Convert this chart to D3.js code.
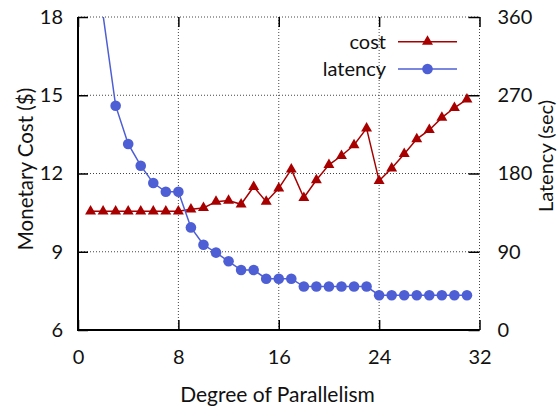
<!DOCTYPE html>
<html>
<head>
<meta charset="utf-8">
<script src="https://cdn.jsdelivr.net/npm/d3@7"></script>
<style>
  body { margin: 0; background: #fff; }
  text { font-family: Lato, "Open Sans", sans-serif; fill: #111; }
</style>
</head>
<body>
<svg id="chart" width="557" height="412"></svg>
<script>
// Degree of parallelism on the x axis
const degrees = [1, 2, 3, 4, 5, 6, 7, 8, 9, 10, 11, 12, 13, 14, 15, 16,
                 17, 18, 19, 20, 21, 22, 23, 24, 25, 26, 27, 28, 29, 30, 31];

// Monetary cost in dollars (left axis)
const costValues = [10.55, 10.55, 10.55, 10.55, 10.55, 10.55, 10.55, 10.55,
                    10.63, 10.68, 10.92, 10.96, 10.82, 11.49, 10.92, 11.43,
                    12.16, 11.07, 11.75, 12.33, 12.68, 13.09, 13.73, 11.72,
                    12.20, 12.75, 13.32, 13.67, 14.14, 14.52, 14.84];

// Latency in seconds (right axis)
const latencyValues = [720, 362, 258, 214, 189, 169, 159, 159, 118, 98, 89,
                       79, 69, 69, 59, 59, 59, 50, 50, 50, 50, 50, 50,
                       40, 40, 40, 40, 40, 40, 40, 40];

const xTicks = [0, 8, 16, 24, 32];
const costTicks = [6, 9, 12, 15, 18];
const latencyTicks = [0, 90, 180, 270, 360];

const costColor = "#a80000";
const latencyColor = "#4e5fd6";

const svg = d3.select("#chart");
const W = 557, H = 412;
const margin = { left: 78, right: W - 479.5, top: 17, bottom: H - 330 };
const x0 = margin.left, x1 = W - margin.right, y0 = margin.top, y1 = H - margin.bottom;

const x = d3.scaleLinear().domain([0, 32]).range([x0, x1]);
const yCost = d3.scaleLinear().domain([6, 18]).range([y1, y0]);
const yLat = d3.scaleLinear().domain([0, 360]).range([y1, y0]);

svg.append("defs").append("clipPath").attr("id", "plot-clip")
  .append("rect").attr("x", x0).attr("y", y0).attr("width", x1 - x0).attr("height", y1 - y0);

// dotted grid (the x=32 and y=18 lines double as the right/top border)
const grid = svg.append("g").attr("stroke", "#444").attr("stroke-width", 1)
  .attr("stroke-dasharray", "1,2").attr("fill", "none");
grid.selectAll("line.v").data(xTicks.slice(1)).join("line")
  .attr("x1", d => x(d)).attr("x2", d => x(d)).attr("y1", y0).attr("y2", y1);
grid.selectAll("line.h").data(costTicks.slice(1)).join("line")
  .attr("x1", x0).attr("x2", x1).attr("y1", d => yCost(d)).attr("y2", d => yCost(d));

// axes with inward ticks
const fontSize = 20;
const styleAxis = g => {
  g.select(".domain").remove();
  g.selectAll(".tick line").attr("stroke", "#000").attr("stroke-width", 1.5);
  g.selectAll(".tick text").attr("font-size", fontSize).attr("fill", "#111")
    .attr("font-family", "Lato, 'Open Sans', sans-serif");
};

svg.append("g").attr("transform", `translate(${x0},0)`)
  .call(d3.axisLeft(yCost).tickValues(costTicks).tickFormat(d3.format("d")).tickSize(-10).tickPadding(15))
  .call(styleAxis);

svg.append("g").attr("transform", `translate(${x1},0)`)
  .call(d3.axisRight(yLat).tickValues(latencyTicks).tickFormat(d3.format("d")).tickSize(-11).tickPadding(18))
  .call(styleAxis);

svg.append("g").attr("transform", `translate(0,${y1})`)
  .call(d3.axisBottom(x).tickValues(xTicks).tickFormat(d3.format("d")).tickSize(-10).tickPadding(20))
  .call(styleAxis);

svg.append("g").attr("transform", `translate(0,${y0})`)
  .call(d3.axisTop(x).tickValues(xTicks).tickFormat("").tickSize(-10))
  .call(styleAxis);

// solid left and bottom frame
svg.append("path")
  .attr("d", `M${x0},${y0}V${y1}H${x1}`)
  .attr("fill", "none").attr("stroke", "#000").attr("stroke-width", 2);

// axis titles
svg.append("text").attr("transform", `translate(25,169) rotate(-90)`)
  .attr("text-anchor", "middle").attr("dominant-baseline", "central")
  .attr("font-size", 20.5).text("Monetary Cost ($)");
svg.append("text").attr("transform", `translate(545,156) rotate(-90)`)
  .attr("text-anchor", "middle").attr("dominant-baseline", "central")
  .attr("font-size", 20).text("Latency (sec)");
svg.append("text").attr("x", 277.5).attr("y", 402)
  .attr("text-anchor", "middle").attr("font-size", 21).text("Degree of Parallelism");

// series
const costData = degrees.map((d, i) => ({ x: d, y: costValues[i] }));
const latData = degrees.map((d, i) => ({ x: d, y: latencyValues[i] }));

const tri = d3.symbol().type(d3.symbolTriangle).size(52);

const plot = svg.append("g").attr("clip-path", "url(#plot-clip)");

plot.append("path").datum(costData)
  .attr("fill", "none").attr("stroke", costColor).attr("stroke-width", 1.5)
  .attr("d", d3.line().x(d => x(d.x)).y(d => yCost(d.y)));
plot.selectAll("path.cost-pt").data(costData).join("path")
  .attr("class", "cost-pt")
  .attr("transform", d => `translate(${x(d.x)},${yCost(d.y)})`)
  .attr("d", tri).attr("fill", costColor);

plot.append("path").datum(latData)
  .attr("fill", "none").attr("stroke", latencyColor).attr("stroke-width", 1.5)
  .attr("d", d3.line().x(d => x(d.x)).y(d => yLat(d.y)));
plot.selectAll("circle.lat-pt").data(latData.filter(d => d.y <= 360)).join("circle")
  .attr("class", "lat-pt")
  .attr("cx", d => x(d.x)).attr("cy", d => yLat(d.y)).attr("r", 5.3)
  .attr("fill", latencyColor);

// legend
const legend = svg.append("g");
const legendItems = [
  { label: "cost", color: costColor, marker: "tri", y: 41.7 },
  { label: "latency", color: latencyColor, marker: "circle", y: 69 }
];
legendItems.forEach(it => {
  legend.append("text").attr("x", 386).attr("y", it.y).attr("dy", "0.35em")
    .attr("text-anchor", "end").attr("font-size", fontSize).text(it.label);
  legend.append("line").attr("x1", 398).attr("x2", 457).attr("y1", it.y).attr("y2", it.y)
    .attr("stroke", it.color).attr("stroke-width", 1.5);
  if (it.marker === "tri") {
    legend.append("path").attr("transform", `translate(427.5,${it.y})`).attr("d", tri).attr("fill", it.color);
  } else {
    legend.append("circle").attr("cx", 427.5).attr("cy", it.y).attr("r", 5.3).attr("fill", it.color);
  }
});
</script>
</body>
</html>
